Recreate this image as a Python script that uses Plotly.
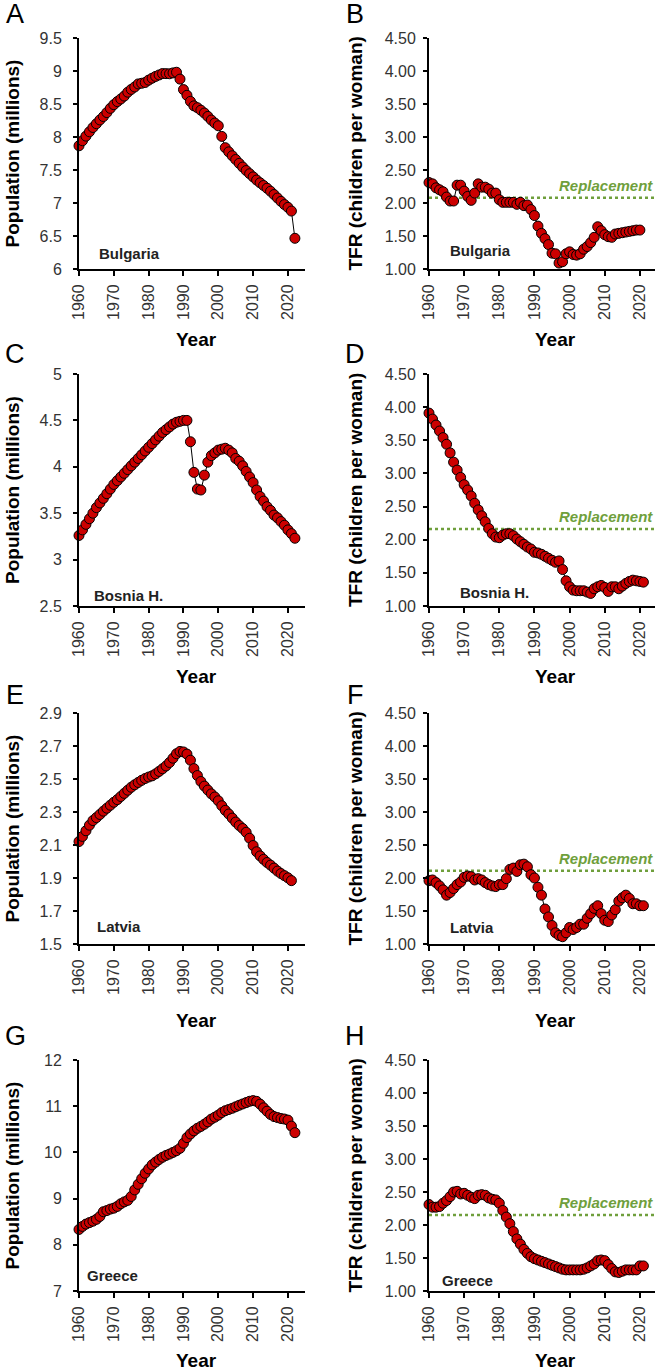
import plotly.graph_objects as go

W, H = 661, 1372
FONT = "Liberation Sans, Arial, sans-serif"

YEARS = list(range(1960, 2023))

# population (millions)
BG_POP = [7.867, 7.943, 8.013, 8.079, 8.144, 8.201, 8.258, 8.310, 8.370, 8.434,
          8.490, 8.536, 8.576, 8.620, 8.679, 8.721, 8.758, 8.804, 8.814, 8.826,
          8.862, 8.891, 8.918, 8.940, 8.961, 8.960, 8.958, 8.971, 8.981, 8.877,
          8.718, 8.632, 8.540, 8.472, 8.444, 8.406, 8.363, 8.312, 8.257, 8.211,
          8.170, 8.009, 7.838, 7.775, 7.716, 7.659, 7.601, 7.545, 7.492, 7.444,
          7.396, 7.348, 7.306, 7.265, 7.224, 7.178, 7.128, 7.076, 7.025, 6.976,
          6.934, 6.878, 6.465]
BA_POP = [3.26, 3.32, 3.38, 3.44, 3.50, 3.56, 3.61, 3.66, 3.71, 3.76,
          3.81, 3.85, 3.89, 3.93, 3.97, 4.01, 4.05, 4.09, 4.13, 4.17,
          4.21, 4.25, 4.29, 4.33, 4.37, 4.40, 4.43, 4.46, 4.48, 4.49,
          4.50, 4.50, 4.27, 3.94, 3.76, 3.75, 3.91, 4.05, 4.12, 4.15,
          4.18, 4.19, 4.20, 4.18, 4.15, 4.09, 4.06, 4.01, 3.95, 3.89,
          3.83, 3.75, 3.68, 3.63, 3.57, 3.53, 3.48, 3.45, 3.41, 3.37,
          3.32, 3.28, 3.23]
LV_POP = [2.121, 2.152, 2.186, 2.220, 2.248, 2.266, 2.285, 2.305, 2.323, 2.341,
          2.359, 2.375, 2.394, 2.413, 2.432, 2.450, 2.465, 2.479, 2.492, 2.503,
          2.512, 2.519, 2.531, 2.546, 2.562, 2.579, 2.600, 2.626, 2.653, 2.667,
          2.664, 2.651, 2.614, 2.563, 2.521, 2.485, 2.457, 2.433, 2.410, 2.391,
          2.368, 2.338, 2.310, 2.288, 2.263, 2.239, 2.218, 2.200, 2.177, 2.141,
          2.097, 2.059, 2.034, 2.013, 1.994, 1.978, 1.960, 1.942, 1.927, 1.914,
          1.901, 1.884]
GR_POP = [8.332, 8.398, 8.448, 8.480, 8.511, 8.551, 8.614, 8.716, 8.741, 8.773,
          8.793, 8.831, 8.889, 8.929, 8.962, 9.046, 9.188, 9.309, 9.430, 9.548,
          9.642, 9.730, 9.790, 9.847, 9.896, 9.934, 9.964, 10.000, 10.036, 10.089,
          10.197, 10.320, 10.399, 10.466, 10.522, 10.562, 10.609, 10.661, 10.721, 10.762,
          10.806, 10.862, 10.902, 10.928, 10.955, 10.987, 11.020, 11.049, 11.078, 11.107,
          11.121, 11.105, 11.045, 10.965, 10.892, 10.821, 10.776, 10.754, 10.733, 10.722,
          10.699, 10.569, 10.427]

# total fertility rate (children per woman)
BG_TFR = [2.31, 2.29, 2.23, 2.20, 2.17, 2.09, 2.03, 2.03, 2.27, 2.27,
          2.18, 2.10, 2.04, 2.15, 2.29, 2.24, 2.24, 2.21, 2.15, 2.15,
          2.05, 2.01, 2.01, 2.01, 2.01, 1.98, 2.01, 1.96, 1.97, 1.90,
          1.81, 1.65, 1.54, 1.46, 1.37, 1.24, 1.23, 1.09, 1.11, 1.23,
          1.26, 1.22, 1.21, 1.23, 1.30, 1.34, 1.40, 1.48, 1.64, 1.58,
          1.52, 1.49, 1.48, 1.53, 1.54, 1.55, 1.56, 1.57, 1.58, 1.59,
          1.59]
BA_TFR = [3.91, 3.82, 3.73, 3.64, 3.54, 3.44, 3.31, 3.17, 3.05, 2.94,
          2.83, 2.75, 2.66, 2.55, 2.45, 2.36, 2.27, 2.17, 2.09, 2.04,
          2.03, 2.07, 2.09, 2.09, 2.06, 2.01, 1.97, 1.93, 1.89, 1.86,
          1.81, 1.80, 1.78, 1.75, 1.72, 1.69, 1.66, 1.68, 1.55, 1.38,
          1.29, 1.24, 1.23, 1.23, 1.23, 1.21, 1.19, 1.26, 1.29, 1.31,
          1.28, 1.22, 1.29, 1.29, 1.26, 1.30, 1.34, 1.37, 1.39, 1.38,
          1.37, 1.36]
LV_TFR = [1.96, 1.97, 1.93, 1.88, 1.82, 1.74, 1.78, 1.84, 1.90, 1.94,
          2.01, 2.03, 2.02, 1.97, 1.99, 1.97, 1.93, 1.90, 1.88, 1.87,
          1.90, 1.90, 1.99, 2.13, 2.15, 2.10, 2.20, 2.21, 2.17, 2.05,
          2.00, 1.86, 1.74, 1.53, 1.41, 1.28, 1.17, 1.13, 1.11, 1.17,
          1.25, 1.22, 1.25, 1.30, 1.30, 1.39, 1.46, 1.54, 1.58, 1.46,
          1.36, 1.34, 1.44, 1.52, 1.65, 1.70, 1.74, 1.69, 1.61, 1.61,
          1.58, 1.58]
GR_TFR = [2.31, 2.27, 2.27, 2.28, 2.33, 2.37, 2.43, 2.50, 2.51, 2.47,
          2.48, 2.45, 2.42, 2.40, 2.45, 2.46, 2.45, 2.41, 2.39, 2.38,
          2.33, 2.22, 2.12, 2.02, 1.90, 1.79, 1.71, 1.63, 1.57, 1.52,
          1.49, 1.47, 1.45, 1.43, 1.41, 1.39, 1.37, 1.35, 1.33, 1.32,
          1.32, 1.32, 1.32, 1.32, 1.33, 1.35, 1.38, 1.41, 1.46, 1.47,
          1.46, 1.40, 1.34, 1.29, 1.28, 1.30, 1.32, 1.32, 1.32, 1.32,
          1.38, 1.38]

COUNTRIES = ["Bulgaria", "Bosnia H.", "Latvia", "Greece"]
POP_SERIES = [BG_POP, BA_POP, LV_POP, GR_POP]
TFR_SERIES = [BG_TFR, BA_TFR, LV_TFR, GR_TFR]
POP_RANGES = [(6, 9.5, 0.5), (2.5, 5, 0.5), (1.5, 2.9, 0.2), (7, 12, 1)]
TFR_RANGE = (1, 4.5, 0.5)
REPLACEMENT = [2.08, 2.16, 2.11, 2.15]
LETTERS = ["A", "B", "C", "D", "E", "F", "G", "H"]
X_TICKS = [1960, 1970, 1980, 1990, 2000, 2010, 2020]

# layout in pixels
ROWS = [(38, 269), (374, 606), (713, 944), (1060, 1291)]
COLS = [(79, 305), (429, 655)]
X_END = [2024.9, 2024.3]
LETTER_Y = [14, 354, 695, 1036]
LETTER_X = [15, 355]
YEAR_Y = [339, 676, 1020, 1360]
YEAR_X = [196, 555]
YTITLE_X = [12, 355]
# country label: (left px, centre y px) per panel
LABEL_POS = [(97, 253), (448, 251), (92, 595), (458, 592),
             (95, 926), (448, 928), (85, 1275), (440, 1280)]


def fx(px):
    return px / W


def fy(py):
    return 1 - py / H


def note(text, x, y, size, color="black", xanchor="center", angle=0):
    return dict(
        text=text, x=fx(x), y=fy(y), xref="paper", yref="paper",
        xanchor=xanchor, yanchor="middle", textangle=angle,
        showarrow=False, font={"family": FONT, "size": size, "color": color},
    )


fig = go.Figure()
layout = {}
annotations = []
shapes = []

for r in range(4):
    for c in range(2):
        n = r * 2 + 1 + c
        sfx = "" if n == 1 else str(n)
        if c == 0:
            ys = POP_SERIES[r]
            y0, y1, dt = POP_RANGES[r]
            fmt = None
            ytitle = "Population (millions)"
        else:
            ys = TFR_SERIES[r]
            y0, y1, dt = TFR_RANGE
            fmt = ".2f"
            ytitle = "TFR (children per woman)"
        fig.add_trace(
            go.Scatter(
                x=YEARS[: len(ys)],
                y=ys,
                xaxis="x" + sfx,
                yaxis="y" + sfx,
                mode="lines+markers",
                line={"color": "black", "width": 1},
                marker={"size": 10, "color": "#cc0000",
                        "line": {"color": "black", "width": 1}},
                cliponaxis=False,
                showlegend=False,
            )
        )
        top, bot = ROWS[r]
        left, right = COLS[c]
        layout["xaxis" + sfx] = dict(
            domain=[fx(left), fx(right)],
            anchor="y" + sfx,
            automargin=False,
            range=[1960, X_END[c]],
            tickvals=X_TICKS,
            tickangle=-90,
            ticks="outside", ticklen=5, tickwidth=1.5, tickcolor="black",
            showline=True, linecolor="black", linewidth=2,
            showgrid=False, zeroline=False,
            tickfont={"family": FONT, "size": 16, "color": "#333"},
            ticklabelstandoff=2,
        )
        layout["yaxis" + sfx] = dict(
            domain=[fy(bot), fy(top)],
            anchor="x" + sfx,
            automargin=False,
            range=[y0, y1],
            tick0=y0, dtick=dt,
            tickformat=fmt,
            ticks="outside", ticklen=4, tickwidth=1.5, tickcolor="black",
            showline=True, linecolor="black", linewidth=2,
            showgrid=False, zeroline=False,
            tickfont={"family": FONT, "size": 16, "color": "#333"},
            ticklabelstandoff=8 if c == 0 else 4,
        )
        annotations.append(note(LETTERS[n - 1], LETTER_X[c], LETTER_Y[r], 27))
        annotations.append(note("<b>Year</b>", YEAR_X[c], YEAR_Y[r], 19))
        annotations.append(note(f"<b>{ytitle}</b>", YTITLE_X[c],
                                (top + bot) / 2, 19, angle=-90))
        lx, ly = LABEL_POS[n - 1]
        annotations.append(note(f"<b>{COUNTRIES[r]}</b>", lx, ly, 15,
                                color="#222", xanchor="left"))
        if c == 1:
            shapes.append(dict(
                type="line", xref=f"x{sfx} domain", yref="y" + sfx,
                x0=0, x1=1, y0=REPLACEMENT[r], y1=REPLACEMENT[r],
                line={"color": "#6f9f3c", "width": 2.5, "dash": "dot"},
                layer="below",
            ))
            annotations.append(dict(
                text="<b><i>Replacement</i></b>",
                xref=f"x{sfx} domain", yref="y" + sfx,
                x=1.0, y=REPLACEMENT[r], xanchor="right", yanchor="bottom",
                yshift=2, showarrow=False,
                font={"family": FONT, "size": 15, "color": "#6f9f3c"},
            ))

fig.update_layout(
    **layout,
    annotations=annotations,
    shapes=shapes,
    width=W,
    height=H,
    margin={"l": 0, "r": 0, "t": 0, "b": 0, "autoexpand": False},
    paper_bgcolor="white",
    plot_bgcolor="white",
    font={"family": FONT, "color": "black"},
)

fig.write_html(
    "out.html",
    config={"displayModeBar": False},
    post_script="document.body.style.margin='0px';",
)
